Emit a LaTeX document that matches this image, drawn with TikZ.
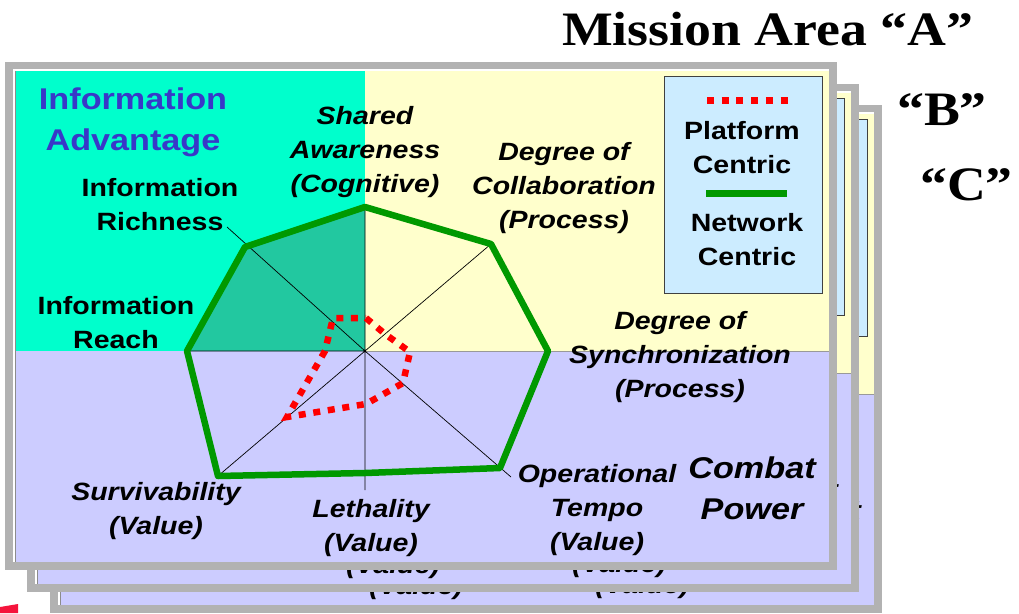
\documentclass[tikz,border=0pt]{standalone}
\usepackage{fontspec}
\setmainfont{Liberation Sans}[FakeStretch=1.14]
\newfontfamily\titlefont{Liberation Serif}[FakeStretch=1.12]
\usetikzlibrary{positioning}

\definecolor{framegray}{HTML}{B2B2B2}
\definecolor{infocyan}{HTML}{00FFCC}
\definecolor{infofill}{HTML}{22C8A0}
\definecolor{procyellow}{HTML}{FFFFCC}
\definecolor{combatlav}{HTML}{CCCCFF}
\definecolor{legblue}{HTML}{CCECFF}
\definecolor{ncgreen}{HTML}{009900}
\definecolor{pcred}{HTML}{FF0000}
\definecolor{advblue}{HTML}{3838C8}
\definecolor{fragred}{HTML}{F5143C}

% one mission-area sheet
\newcommand{\missionpanel}{%
  % frame and zones
  \fill[framegray] (5,62) rectangle (837,570);
  \fill[white] (13,69) rectangle (829,562);
  \fill[infocyan] (15,71) rectangle (365,351);
  \fill[procyellow] (365,71) rectangle (829,351);
  \fill[combatlav] (15,351) rectangle (829,562);
  \draw[black!45,line width=0.8pt] (15,562) -- (15,71);
  % radar
  \coordinate (c) at (365,351);
  \coordinate (aware) at (365,207);
  \coordinate (collab) at (491,244);
  \coordinate (sync) at (548,351);
  \coordinate (tempo) at (500,468);
  \coordinate (leth) at (365,473);
  \coordinate (surv) at (218,476);
  \coordinate (reach) at (187,351);
  \coordinate (rich) at (245,247);
  \coordinate (richEnd) at (227,227);
  \coordinate (tempoEnd) at (511,477);
  \coordinate (lethEnd) at (365,490);
  \coordinate (rimE) at (829,351);
  \fill[infofill] (reach) -- (rich) -- (aware) -- (c) -- cycle;
  \draw[black!40,line width=0.6pt] (c) -- (rimE);
  \draw[axis] (reach) -- (c) (aware) -- (c) (collab) -- (c) (richEnd) -- (c)
    (surv) -- (c) (tempoEnd) -- (c) (lethEnd) -- (c);
  \draw[ncline] (aware) -- (collab) -- (sync) -- (tempo) -- (leth) -- (surv)
    -- (reach) -- (rich) -- cycle;
  \coordinate (pAware) at (366,318);
  \coordinate (pCollab) at (385,334);
  \coordinate (pSync) at (410,352);
  \coordinate (pTempo) at (403,383);
  \coordinate (pLeth) at (366,404);
  \coordinate (pSurv) at (287,417);
  \coordinate (pReach) at (325,351);
  \coordinate (pRich) at (333,318);
  \draw[pcline] (pAware) -- (pCollab) -- (pSync) -- (pTempo) -- (pLeth)
    -- (pSurv) -- (pReach) -- (pRich) -- cycle;
  % labels
  \node[arealbl,text=advblue] (lblAdv) at (133,122) {Information\\Advantage};
  \node[infolbl] (lblRich) at (160,205) {Information\\Richness};
  \node[infolbl] (lblReach) at (116,323) {Information\\Reach};
  \node[axislbl] (lblAware) at (365,152) {Shared\\Awareness\\(Cognitive)};
  \node[axislbl] (lblCollab) at (564,188) {Degree of\\Collaboration\\(Process)};
  \node[axislbl] (lblSync) at (680,357) {Degree of\\Synchronization\\(Process)};
  \node[axislbl] (lblTempo) at (597,510) {Operational\\Tempo\\(Value)};
  \node[axislbl] (lblLeth) at (371,528) {Lethality\\(Value)};
  \node[axislbl] (lblSurv) at (156,511) {Survivability\\(Value)};
  \node[combatlbl] (lblCombat) at (752,488) {Combat\\Power};
  % legend
  \node[draw=black!75,fill=legblue,line width=0.8pt,minimum width=158pt,
    minimum height=217pt,anchor=north west,inner sep=0pt] (legbox) at (664,76) {};
  \coordinate (pcL) at (707,100);
  \coordinate (pcR) at (788,100);
  \draw[pcline,line width=7pt] (pcL) -- (pcR);
  \node[infolbl] (legPlat) at (742,148) {Platform\\Centric};
  \coordinate (ncL) at (706,193);
  \coordinate (ncR) at (787,193);
  \draw[ncgreen,line width=7pt] (ncL) -- (ncR);
  \node[infolbl] (legNet) at (747,240) {Network\\Centric};
}

\begin{document}
\begin{tikzpicture}[x=1pt,y=-1pt,
  axis/.style={black,line width=0.7pt},
  ncline/.style={ncgreen,line width=6.5pt,line join=round},
  pcline/.style={pcred,line width=6.5pt,dash pattern=on 7pt off 7.7pt},
  axislbl/.style={font=\bfseries\itshape\fontsize{25}{34}\selectfont,align=center,inner sep=0pt},
  infolbl/.style={font=\bfseries\fontsize{25}{34}\selectfont,align=center,inner sep=0pt},
  arealbl/.style={font=\bfseries\fontsize{30}{41}\selectfont,align=center,inner sep=0pt},
  combatlbl/.style={font=\bfseries\itshape\fontsize{30}{41}\selectfont,align=center,inner sep=0pt},
  titlelbl/.style={font=\titlefont\bfseries\fontsize{48}{58}\selectfont,inner sep=0pt,anchor=base west}]
\useasboundingbox (0,0) rectangle (1019,613);
% sheets "C" and "B" behind, "A" in front
\begin{scope}[shift={(45,43)},name prefix=mc-]
  \missionpanel
\end{scope}
\begin{scope}[shift={(22,22)},name prefix=mb-]
  \missionpanel
\end{scope}
\begin{scope}[name prefix=ma-]
  \missionpanel
\end{scope}
% titles
\node[titlelbl] (titleA) at (562,45) {Mission Area “A”};
\node[titlelbl] (titleB) at (897,125) {“B”};
\node[titlelbl] (titleC) at (920,200) {“C”};
% stray mark, lower left
\fill[fragred] (0,607) -- (18,604) -- (18,613) -- (0,613) -- cycle;
\end{tikzpicture}
\end{document}
